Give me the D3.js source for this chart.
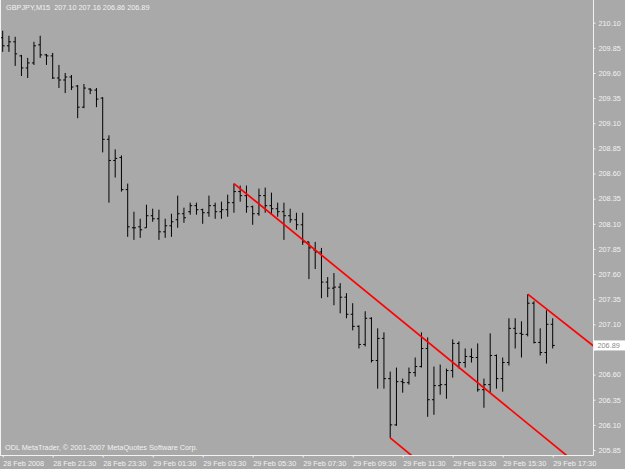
<!DOCTYPE html>
<html><head><meta charset="utf-8">
<script src="https://cdn.jsdelivr.net/npm/d3@7"></script>
<style>
html,body{margin:0;padding:0;background:#a9a9a9;}
svg{display:block;}
text{font-family:"Liberation Sans",Arial,sans-serif;}
</style></head>
<body>
<svg id="chart" width="625" height="469"></svg>
<script>
// ---- data (GBPJPY, M15, bars from 28 Feb 2008 19:30) ----
const symbol = "GBPJPY,M15";
const opens  = [209.95,209.87,209.91,209.77,209.65,209.70,209.88,209.78,209.77,209.55,209.53,209.56,209.47,209.26,209.44,209.43,209.35,208.94,208.73,208.76,
                208.44,208.06,208.07,208.06,208.18,208.15,208.02,208.08,208.14,208.20,208.22,208.28,208.24,208.21,208.28,208.22,208.24,208.31,208.42,208.38,
                208.27,208.20,208.38,208.28,208.25,208.22,208.18,208.14,208.09,207.92,207.84,207.82,207.52,207.46,207.47,207.37,207.20,207.08,206.90,207.16,
                206.74,206.96,206.56,206.10,206.53,206.52,206.62,206.68,206.86,206.35,206.49,206.50,206.64,206.91,206.72,206.78,206.77,206.45,206.50,206.79,
                206.56,206.72,207.06,207.01,207.00,207.31,206.92,206.82,207.10];
const highs  = [210.02,209.97,209.96,209.78,209.75,209.91,209.97,209.79,209.80,209.68,209.60,209.58,209.48,209.49,209.45,209.45,209.36,208.98,208.84,208.78,
                208.50,208.22,208.15,208.29,208.25,208.24,208.15,208.20,208.38,208.26,208.31,208.31,208.25,208.38,208.31,208.32,208.39,208.50,208.48,208.48,
                208.28,208.45,208.46,208.41,208.31,208.31,208.25,208.21,208.21,207.92,207.92,207.86,207.57,207.61,207.51,207.41,207.31,207.09,207.23,207.17,
                207.06,207.02,206.63,206.67,206.56,206.67,206.77,207.02,206.97,206.68,206.70,206.66,206.95,206.93,206.86,206.86,206.91,206.56,207.01,206.80,
                206.77,207.16,207.16,207.13,207.40,207.33,207.06,207.24,207.16];
const lows   = [209.81,209.81,209.67,209.57,209.55,209.68,209.75,209.68,209.54,209.45,209.40,209.43,209.15,209.25,209.39,209.26,208.81,208.31,208.56,208.42,
                207.97,207.94,207.96,208.06,208.12,207.94,207.96,207.97,208.06,208.11,208.19,208.19,208.10,208.17,208.15,208.15,208.17,208.21,208.32,208.21,
                208.09,208.18,208.21,208.19,208.17,207.94,208.11,208.04,207.89,207.55,207.65,207.36,207.37,207.29,207.21,207.16,207.04,206.86,206.88,206.72,
                206.46,206.46,205.97,206.09,206.42,206.50,206.58,206.67,206.18,206.20,206.40,206.36,206.57,206.66,206.67,206.72,206.43,206.27,206.42,206.46,
                206.43,206.69,206.86,206.77,206.98,206.91,206.79,206.71,206.86];
const closes = [209.87,209.91,209.79,209.65,209.70,209.87,209.78,209.77,209.55,209.53,209.56,209.46,209.26,209.45,209.43,209.34,208.94,208.73,208.75,208.44,
                208.07,208.06,208.04,208.18,208.15,208.02,208.08,208.12,208.20,208.16,208.28,208.24,208.21,208.28,208.22,208.24,208.31,208.42,208.38,208.27,
                208.20,208.38,208.28,208.25,208.22,208.18,208.14,208.09,207.92,207.86,207.82,207.52,207.46,207.47,207.37,207.20,207.08,206.90,207.16,206.74,
                206.96,206.56,206.10,206.53,206.52,206.62,206.68,206.86,206.35,206.49,206.50,206.64,206.91,206.72,206.78,206.77,206.45,206.50,206.79,206.56,
                206.72,207.06,207.01,207.00,207.31,206.92,206.82,207.10,206.89];
const priceTicks = [210.10,209.85,209.60,209.35,209.10,208.85,208.60,208.35,208.10,207.85,207.60,207.35,207.10,206.85,206.60,206.35,206.10,205.85];
const hiddenPriceLabel = 206.85; // covered by the last-price box
const timeTickBars = [0,8,16,24,32,40,48,56,64,72,80,88];
const timeTickLabels = ["28 Feb 2008","28 Feb 21:30","28 Feb 23:30","29 Feb 01:30","29 Feb 03:30","29 Feb 05:30",
                        "29 Feb 07:30","29 Feb 09:30","29 Feb 11:30","29 Feb 13:30","29 Feb 15:30","29 Feb 17:30"];
// trend lines (bar index, price) pairs, drawn as rays
const trendStartBars  = [37, 62, 84];
const trendStartPrice = [208.50, 205.97, 207.40];
const trendEndBars    = [87, 72, 94];
const trendEndPrice   = [205.96, 205.46, 206.91];
const lastPrice = 206.89;
const copyright = "ODL MetaTrader, \u00a9 2001-2007 MetaQuotes Software Corp.";

// ---- drawing ----
const svg = d3.select("#chart");
const plotR = 593.5, plotB = 455.5;
const x = d3.scaleLinear().domain([0, 88]).range([2.7, 552.7]);
const y = d3.scaleLinear().domain([205.85, 210.10]).range([450, 22.7]);
const fg = "#f2f2f2";
const f2 = d3.format(".2f");

svg.append("rect").attr("width",625).attr("height",469).attr("fill","#a9a9a9");

svg.append("defs").append("clipPath").attr("id","plot")
  .append("rect").attr("x",0).attr("y",0).attr("width",plotR).attr("height",plotB);

const bars = d3.range(opens.length).map(i => ({i, o:opens[i], h:highs[i], l:lows[i], c:closes[i]}));
const g = svg.append("g").attr("clip-path","url(#plot)");
const bg = g.selectAll("g.bar").data(bars).join("g").attr("class","bar")
  .attr("stroke","#000").attr("stroke-width",1);
bg.append("line").attr("x1",d=>x(d.i)).attr("x2",d=>x(d.i)).attr("y1",d=>y(d.h)).attr("y2",d=>y(d.l));
bg.append("line").attr("x1",d=>x(d.i)-2).attr("x2",d=>x(d.i)).attr("y1",d=>y(d.o)).attr("y2",d=>y(d.o));
bg.append("line").attr("x1",d=>x(d.i)).attr("x2",d=>x(d.i)+2).attr("y1",d=>y(d.c)).attr("y2",d=>y(d.c));

// trend rays
trendStartBars.forEach((b0,k) => {
  const x0 = x(b0), y0 = y(trendStartPrice[k]);
  const x1 = x(trendEndBars[k]), y1 = y(trendEndPrice[k]);
  const s = (y1 - y0) / (x1 - x0);
  const xe = plotR + 5;
  g.append("line").attr("x1",x0).attr("y1",y0).attr("x2",xe).attr("y2",y0 + s*(xe-x0))
    .attr("stroke","#ff0000").attr("stroke-width",1.7);
});

// frame
svg.append("line").attr("x1",plotR).attr("x2",plotR).attr("y1",0).attr("y2",plotB).attr("stroke",fg);
svg.append("line").attr("x1",0).attr("x2",plotR).attr("y1",plotB).attr("y2",plotB).attr("stroke",fg);
svg.append("line").attr("x1",0.5).attr("x2",0.5).attr("y1",0).attr("y2",plotB).attr("stroke",fg);

// price axis
const ya = svg.append("g").attr("transform",`translate(${plotR},0)`)
  .call(d3.axisRight(y).tickValues(priceTicks).tickSize(2).tickPadding(3)
    .tickFormat(d => d === hiddenPriceLabel ? "" : f2(d)));
ya.select(".domain").remove();
ya.selectAll("line").attr("stroke",fg);
ya.selectAll("text").attr("fill",fg).attr("font-size","7.3px").attr("font-family","Liberation Sans, Arial, sans-serif");

// time axis
const xa = svg.append("g").attr("transform",`translate(0,${plotB})`)
  .call(d3.axisBottom(x).tickValues(timeTickBars).tickSize(2).tickPadding(3.3).tickFormat((d,i)=>timeTickLabels[i]));
xa.select(".domain").remove();
xa.selectAll("line").attr("stroke",fg);
xa.selectAll("text").attr("fill",fg).attr("text-anchor","start").attr("font-size","7.3px")
  .attr("font-family","Liberation Sans, Arial, sans-serif");

// last price label
const ly = y(lastPrice);
svg.append("rect").attr("x",594).attr("y",ly-5).attr("width",31).attr("height",10).attr("fill","#ffffff");
svg.append("text").attr("x",597.5).attr("y",ly+2.6).attr("fill","#8a8a8a").attr("font-size","7.3px")
  .text(f2(lastPrice));

// title & copyright
const last = opens.length - 1;
svg.append("text").attr("x",6).attr("y",10).attr("fill",fg).attr("font-size","7.3px")
  .style("white-space","pre")
  .text(`${symbol}\u00a0\u00a0${f2(opens[last])} ${f2(highs[last])} ${f2(lows[last])} ${f2(closes[last])}`);
svg.append("text").attr("x",5).attr("y",450).attr("fill",fg).attr("font-size","7.3px").text(copyright);
</script>
</body></html>
